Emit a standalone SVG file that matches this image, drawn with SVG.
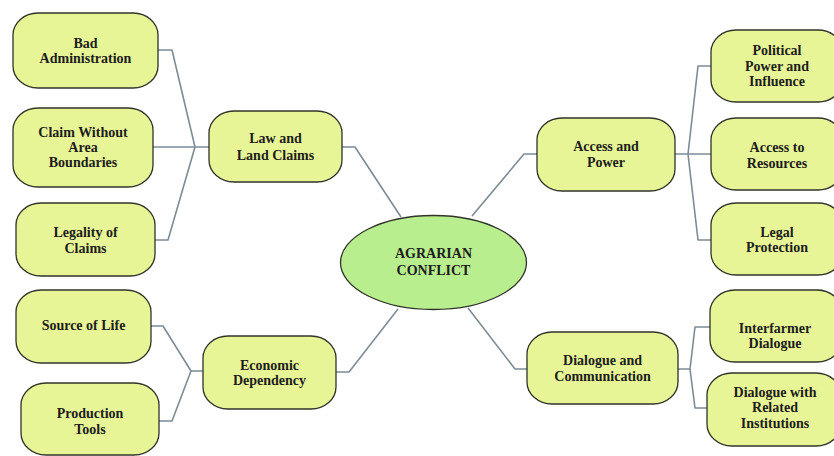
<svg xmlns="http://www.w3.org/2000/svg" width="834" height="456" viewBox="0 0 834 456">
<style>
.box{fill:#e8f596;stroke:#2f3328;stroke-width:1.3}
.hub{fill:#b9ee8f;stroke:#2f3328;stroke-width:1.3}
.t{font-family:"Liberation Serif","Times New Roman",serif;font-weight:bold;font-size:14px;fill:#1c1c1c;text-anchor:middle}
.c{fill:none;stroke:#7c8c96;stroke-width:1.6;stroke-linejoin:round}
</style>
<rect width="834" height="456" fill="#ffffff"/>
<g id="connectors">
<polyline class="c" points="158,50 172,50 195,147"/>
<polyline class="c" points="153,147 209,147"/>
<polyline class="c" points="155,240 168,240 195,147"/>
<polyline class="c" points="342,147 355,147 401,217"/>
<polyline class="c" points="151,326 163,326 191,371 203,371"/>
<polyline class="c" points="159,421 172,421 191,371"/>
<polyline class="c" points="336,372 349,372 398,309"/>
<polyline class="c" points="472,216 524,154 537,154"/>
<polyline class="c" points="675,154 711,154"/>
<polyline class="c" points="688,154 698,66 711,66"/>
<polyline class="c" points="688,154 698,240 711,240"/>
<polyline class="c" points="468,308 515,369 527,369"/>
<polyline class="c" points="678,369 690,369 695,327 710,327"/>
<polyline class="c" points="690,369 695,408 707,408"/>
</g>
<g id="n-bad-admin">
<rect class="box" x="13" y="13" width="145" height="75" rx="25" ry="22"/>
<text class="t" x="85.5" y="47.5">Bad</text>
<text class="t" x="85.5" y="62.5">Administration</text>
</g>
<g id="n-claim-without">
<rect class="box" x="13" y="108" width="140" height="79" rx="25" ry="22"/>
<text class="t" x="83" y="136.5">Claim Without</text>
<text class="t" x="83" y="151.5">Area</text>
<text class="t" x="83" y="166.5">Boundaries</text>
</g>
<g id="n-legality">
<rect class="box" x="16" y="203" width="139" height="73" rx="25" ry="22"/>
<text class="t" x="85.5" y="236.5">Legality of</text>
<text class="t" x="85.5" y="252.5">Claims</text>
</g>
<g id="n-law">
<rect class="box" x="209" y="111" width="133" height="71" rx="25" ry="22"/>
<text class="t" x="275.5" y="142.5">Law and</text>
<text class="t" x="275.5" y="159.5">Land Claims</text>
</g>
<g id="n-source">
<rect class="box" x="16" y="290" width="135" height="73" rx="25" ry="22"/>
<text class="t" x="83.5" y="329.5">Source of Life</text>
</g>
<g id="n-production">
<rect class="box" x="21" y="383" width="138" height="72" rx="25" ry="22"/>
<text class="t" x="90" y="417.5">Production</text>
<text class="t" x="90" y="433.5">Tools</text>
</g>
<g id="n-economic">
<rect class="box" x="203" y="336" width="133" height="73" rx="25" ry="22"/>
<text class="t" x="269.5" y="369.5">Economic</text>
<text class="t" x="269.5" y="384.5">Dependency</text>
</g>
<g id="n-center">
<ellipse class="hub" cx="433.5" cy="262.5" rx="93" ry="47"/>
<text class="t" x="433.5" y="257.5">AGRARIAN</text>
<text class="t" x="433.5" y="274.5">CONFLICT</text>
</g>
<g id="n-access-power">
<rect class="box" x="537" y="118" width="138" height="73" rx="25" ry="22"/>
<text class="t" x="606" y="150.5">Access and</text>
<text class="t" x="606" y="166.5">Power</text>
</g>
<g id="n-political">
<rect class="box" x="711" y="30" width="132" height="72" rx="25" ry="22"/>
<text class="t" x="777" y="54.5">Political</text>
<text class="t" x="777" y="70.5">Power and</text>
<text class="t" x="777" y="85.5">Influence</text>
</g>
<g id="n-resources">
<rect class="box" x="711" y="118" width="132" height="72" rx="25" ry="22"/>
<text class="t" x="777" y="151.5">Access to</text>
<text class="t" x="777" y="167.5">Resources</text>
</g>
<g id="n-legal">
<rect class="box" x="711" y="203" width="132" height="72" rx="25" ry="22"/>
<text class="t" x="777" y="236.5">Legal</text>
<text class="t" x="777" y="251.5">Protection</text>
</g>
<g id="n-dialogue">
<rect class="box" x="527" y="332" width="151" height="72" rx="25" ry="22"/>
<text class="t" x="602.5" y="364.5">Dialogue and</text>
<text class="t" x="602.5" y="380.5">Communication</text>
</g>
<g id="n-interfarmer">
<rect class="box" x="710" y="290" width="132" height="72" rx="25" ry="22"/>
<text class="t" x="775" y="332.5">Interfarmer</text>
<text class="t" x="775" y="347.5">Dialogue</text>
</g>
<g id="n-institutions">
<rect class="box" x="707" y="373" width="134" height="73" rx="25" ry="22"/>
<text class="t" x="775" y="396.5">Dialogue with</text>
<text class="t" x="775" y="411.5">Related</text>
<text class="t" x="775" y="427.5">Institutions</text>
</g>
</svg>
